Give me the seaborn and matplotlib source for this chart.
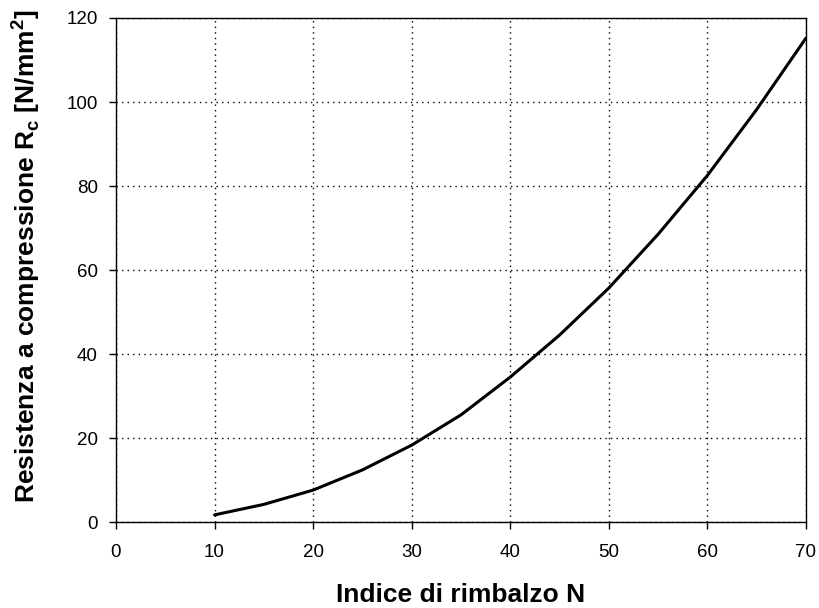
import matplotlib
matplotlib.use("Agg")
import matplotlib.pyplot as plt
import seaborn as sns
import pandas as pd

# Rebound index vs compressive strength
rebound_index = [10, 15, 20, 25, 30, 35, 40, 45, 50, 55, 60, 65, 70]
strength = [1.7, 4.2, 7.6, 12.4, 18.3, 25.5, 34.5, 44.5, 55.7, 68.5, 82.5, 98.2, 115.2]

x_ticks = [0, 10, 20, 30, 40, 50, 60, 70]
y_ticks = [0, 20, 40, 60, 80, 100, 120]

sns.set_style("ticks")
plt.rcParams['font.family'] = ['Liberation Sans', 'DejaVu Sans']
plt.rcParams['mathtext.fontset'] = 'custom'
plt.rcParams['mathtext.rm'] = 'Liberation Sans'
plt.rcParams['mathtext.bf'] = 'Liberation Sans:bold'

df = pd.DataFrame({"N": rebound_index, "Rc": strength})

fig = plt.figure(figsize=(8.19, 6.08), dpi=100)
ax = fig.add_axes([0.1416, 0.1414, 0.8424, 0.829])

sns.lineplot(data=df, x="N", y="Rc", color="black", linewidth=2.2, ax=ax)

ax.set_xlim(0, 70)
ax.set_ylim(0, 120)
ax.set_xticks(x_ticks)
ax.set_yticks(y_ticks)
ax.grid(True, color="black", linestyle=(0, (1, 3)), linewidth=1.0)
for s in ax.spines.values():
    s.set_color("black")
    s.set_linewidth(1.0)
ax.tick_params(axis="both", labelsize=13.5, colors="black", labelcolor="black",
               direction="out", length=5, width=1.0)
ax.tick_params(axis="x", pad=10.5)
ax.tick_params(axis="y", pad=8)

ax.set_xlabel("Indice di rimbalzo N", fontsize=19, fontweight="bold",
              color="black", labelpad=16)
ax.set_ylabel(r"Resistenza a compressione R$_{\mathbf{c}}$ [N/mm$^{\mathbf{2}}$]",
              fontsize=19, fontweight="bold", color="black", labelpad=18)
ax.yaxis.label.set_y(0.528)

fig.savefig("out.png", dpi=100)
